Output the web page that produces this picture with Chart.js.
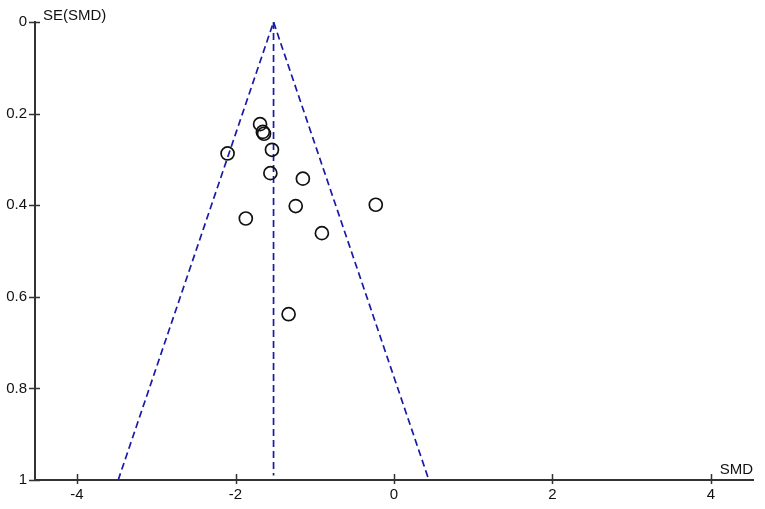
<!DOCTYPE html>
<html>
<head>
<meta charset="utf-8">
<script src="https://cdn.jsdelivr.net/npm/chart.js@4"></script>
<style>
  html, body { margin: 0; padding: 0; background: #fff; }
  #wrap { width: 765px; height: 509px; }
</style>
</head>
<body>
<div id="wrap"><canvas id="chart" width="765" height="509"></canvas></div>
<script>
// study effects (SMD) and their standard errors
var smd = [-1.69, -1.655, -1.64, -2.10, -1.54, -1.56, -1.15, -1.24, -0.23, -1.87, -0.91, -1.33];
var se  = [0.223, 0.240, 0.244, 0.287, 0.279, 0.330, 0.342, 0.402, 0.399, 0.429, 0.461, 0.638];

// pooled estimate and 95% pseudo-confidence funnel
var funnelX  = [-3.48, -1.52, 0.44];
var funnelSE = [1, 0, 1];
var centerX  = [-1.52, -1.52];
var centerSE = [0, 0.99];

var xTicks = [-4, -2, 0, 2, 4];
var yTicks = [0, 0.2, 0.4, 0.6, 0.8, 1];

var pts = function (xs, ys) {
    return xs.map(function (v, i) { return { x: v, y: ys[i] }; });
};

var axisColor = '#333333';
var textColor = '#111111';
var font = { family: 'Liberation Sans, Arial, sans-serif', size: 15 };

// tick marks crossing the axis line + the two axis captions
var axisExtras = {
    id: 'axisExtras',
    afterDraw: function (chart) {
        var c = chart.ctx;
        var xs = chart.scales.x, ys = chart.scales.y;
        var area = chart.chartArea;
        c.save();
        c.strokeStyle = axisColor;
        c.lineWidth = 1.5;
        c.beginPath();
        xTicks.forEach(function (v) {
            var px = Math.round(xs.getPixelForValue(v)) + 0.5;
            c.moveTo(px, area.bottom - 6);
            c.lineTo(px, area.bottom + 4);
        });
        yTicks.forEach(function (v) {
            var py = Math.round(ys.getPixelForValue(v)) + 0.5;
            c.moveTo(area.left - 6, py);
            c.lineTo(area.left + 5, py);
        });
        c.stroke();

        c.fillStyle = textColor;
        c.font = font.size + 'px ' + font.family;
        c.textBaseline = 'alphabetic';
        c.textAlign = 'left';
        c.fillText('SE(SMD)', area.left + 8, area.top - 2);
        c.textAlign = 'right';
        c.fillText('SMD', area.right, area.bottom - 6);
        c.restore();
    }
};

var data = {
    datasets: [{
        label: 'funnel',
        data: pts(funnelX, funnelSE),
        showLine: true,
        borderColor: '#1a1aa8',
        borderWidth: 1.7,
        borderDash: [7, 4],
        pointRadius: 0,
        fill: false,
        order: 2
    },
    {
        label: 'pooled',
        data: pts(centerX, centerSE),
        showLine: true,
        borderColor: '#1a1aa8',
        borderWidth: 1.7,
        borderDash: [7, 4],
        pointRadius: 0,
        fill: false,
        order: 2
    },
    {
        label: 'studies',
        data: pts(smd, se),
        showLine: false,
        pointStyle: 'circle',
        pointRadius: 6.5,
        pointBorderWidth: 1.7,
        pointBorderColor: '#111111',
        pointBackgroundColor: 'rgba(0,0,0,0)',
        order: 1
    }]
};

var options = {
    responsive: false,
    animation: false,
    layout: { padding: { top: 22, right: 12, left: 0, bottom: 0 } },
    scales: {
        x: {
            type: 'linear',
            min: -4.53,
            max: 4.53,
            grid: { display: false, drawTicks: false },
            border: { display: true, color: axisColor, width: 2 },
            afterBuildTicks: function (scale) {
                scale.ticks = xTicks.map(function (v) { return { value: v }; });
            },
            afterFit: function (scale) { scale.height = 29; },
            ticks: {
                color: textColor,
                font: font,
                padding: 6,
                maxRotation: 0,
                callback: function (v) { return String(v); }
            }
        },
        y: {
            type: 'linear',
            reverse: true,
            min: 0,
            max: 1,
            grid: { display: false, drawTicks: false },
            border: { display: true, color: axisColor, width: 2 },
            afterBuildTicks: function (scale) {
                scale.ticks = yTicks.map(function (v) { return { value: v }; });
            },
            afterFit: function (scale) { scale.width = 35; },
            ticks: {
                color: textColor,
                font: font,
                padding: 8,
                callback: function (v) { return String(Math.round(v * 10) / 10); }
            }
        }
    },
    plugins: {
        legend: { display: false },
        tooltip: { enabled: false },
        title: { display: false }
    }
};

var ctx = document.getElementById('chart').getContext('2d');
var chart = new Chart(ctx, {
    type: 'scatter',
    data: data,
    options: options,
    plugins: [axisExtras]
});
</script>
</body>
</html>
